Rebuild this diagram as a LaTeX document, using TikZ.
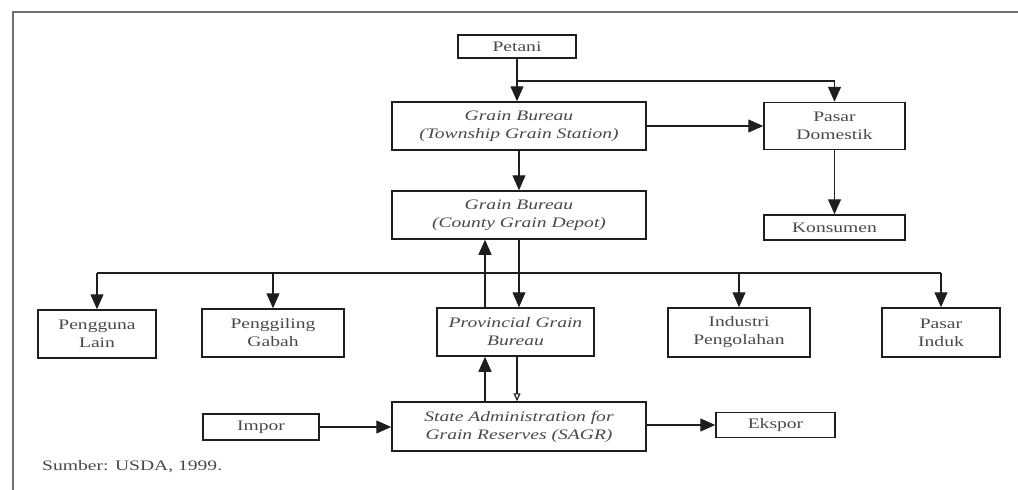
\documentclass[tikz,border=0pt]{standalone}
\usepackage{fontspec}
\setmainfont{Liberation Serif}
\newfontfamily\widefont[FakeStretch=1.35]{Liberation Serif}
\usetikzlibrary{arrows.meta}
\definecolor{ink}{HTML}{1E1E1E}
\definecolor{txt}{HTML}{484848}
\definecolor{frame}{HTML}{707070}
\tikzset{
  box/.style={draw=ink, line width=1.5pt, inner sep=0pt, align=center,
              text=txt, font=\widefont\fontsize{14.5}{18}\selectfont},
  ibox/.style={box, font=\widefont\fontsize{14.5}{18}\selectfont\itshape},
  link/.style={draw=ink, line width=1.2pt},
  arr/.style={link, -{Triangle[length=15pt,width=13pt]}},
  small arr/.style={link, -{Triangle[length=8pt,width=7pt,open]}},
}
\begin{document}
\begin{tikzpicture}[x=1pt,y=-1pt]
\useasboundingbox (0,0) rectangle (1018,490);
% frame
\draw[frame, line width=2pt] (13,490) -- (13,12) -- (1018,12);

% boxes
\node[box, minimum width=118pt, minimum height=23pt] (petani) at (517,46.5) {Petani};
\node[ibox, minimum width=254pt, minimum height=48pt] (gbt) at (519,126) {Grain Bureau\\(Township Grain Station)};
\node[box, minimum width=141pt, minimum height=47pt] (pd) at (834.5,126) {Pasar\\Domestik};
\node[box, minimum width=141pt, minimum height=25pt] (kons) at (834.5,227.5) {Konsumen};
\node[ibox, minimum width=254pt, minimum height=48pt] (gbc) at (519,215) {Grain Bureau\\(County Grain Depot)};
\node[box, minimum width=118pt, minimum height=48pt] (lain) at (97,334) {Pengguna\\Lain};
\node[box, minimum width=142pt, minimum height=48pt] (gil) at (273,333) {Penggiling\\Gabah};
\node[ibox, minimum width=157pt, minimum height=48pt] (prov) at (515.5,332) {Provincial Grain\\Bureau};
\node[box, minimum width=142pt, minimum height=49pt] (ind) at (739,332.5) {Industri\\Pengolahan};
\node[box, minimum width=118pt, minimum height=49pt] (induk) at (941,332.5) {Pasar\\Induk};
\node[ibox, minimum width=254pt, minimum height=49pt] (sagr) at (519,426.5) {State Administration for\\Grain Reserves (SAGR)};
\node[box, minimum width=116pt, minimum height=26pt] (impor) at (261,427) {Impor};
\node[box, minimum width=119pt, minimum height=25pt] (ekspor) at (775.5,425) {Ekspor};
\node[anchor=west, text=txt, font=\widefont\fontsize{14.5}{16}\selectfont, inner sep=0pt] (src) at (42,467) {Sumber: USDA, 1999.};

% junction points
\coordinate (br) at (517,81);
\coordinate (busL) at (97,273);
\coordinate (busR) at (941,273);
\coordinate (bGil) at (273,273);
\coordinate (bInd) at (739,273);

% flows from Petani
\draw[arr] (petani.south) -- (gbt.north -| petani.south);
\draw[arr] (br) -| (pd.north);
\draw[arr] (gbt.east) -- (pd.west);
\draw[arr] (pd.south) -- (kons.north);
\draw[arr] (gbt.south) -- (gbc.north);

% distribution bus
\draw[link] (busL) -- (busR);
\draw[arr] (busL) -- (lain.north);
\draw[arr] (bGil) -- (gil.north);
\draw[arr] (bInd) -- (ind.north);
\draw[arr] (busR) -- (induk.north);

% county / provincial / SAGR
\draw[arr] (gbc.south) -- (prov.north -| gbc.south);
\draw[arr] (prov.north -| 485,0) -- (gbc.south -| 485,0);
\draw[arr] (sagr.north -| 485,0) -- (prov.south -| 485,0);
\draw[small arr] (prov.south -| 517,0) -- (sagr.north -| 517,0);

% trade
\draw[arr] (impor.east) -- (sagr.west |- impor.east);
\draw[arr] (sagr.east |- ekspor.west) -- (ekspor.west);
\end{tikzpicture}
\end{document}
